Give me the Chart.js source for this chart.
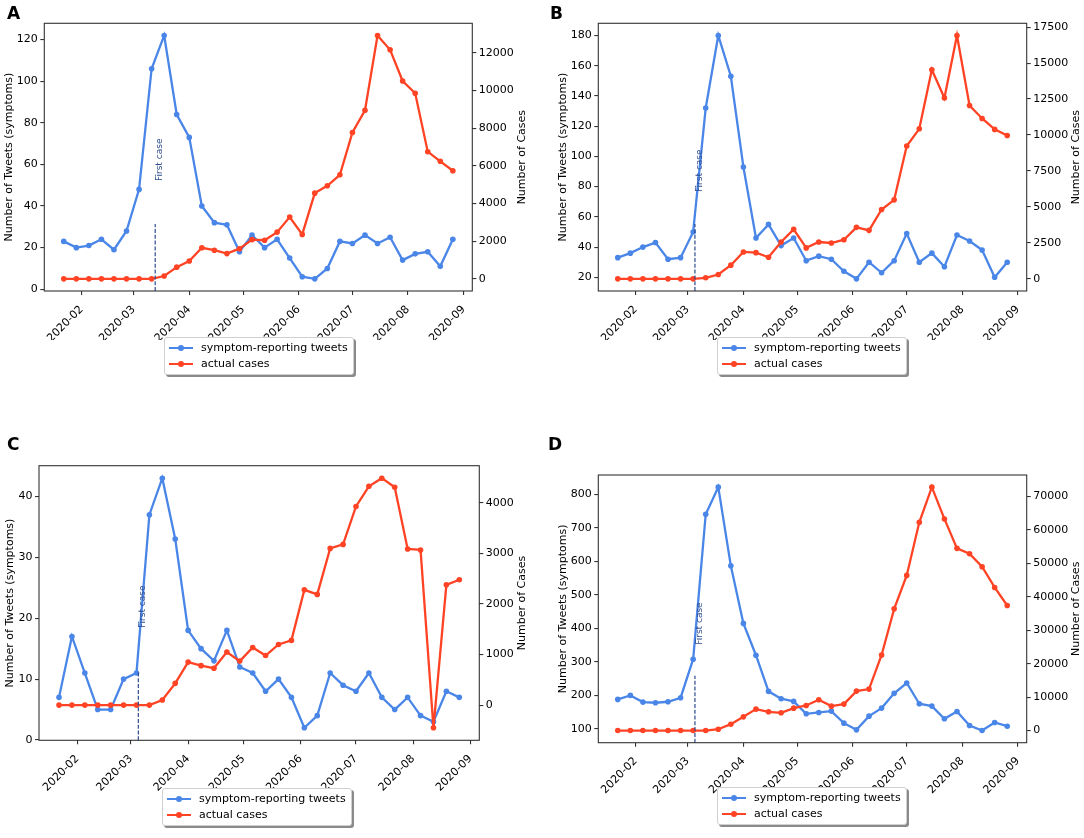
<!DOCTYPE html>
<html>
<head>
<meta charset="utf-8">
<script src="https://cdn.jsdelivr.net/npm/chart.js@4.4.0/dist/chart.umd.min.js"></script>
<style>
  body { margin: 0; background: #fff; width: 1084px; height: 838px; position: relative; overflow: hidden; font-family: 'DejaVu Sans', sans-serif; }
  .panel { position: absolute; }
  .tag { position: absolute; font-weight: bold; font-size: 17px; line-height: 17px; color: #000; }
  .legend { position: absolute; background: #fff; border: 1px solid #d0d0d0; border-radius: 3px; box-shadow: 2px 2px 0 #8a8a8a; padding: 2px 5px 2px 4px; font-size: 11px; line-height: 16px; color: #000; white-space: nowrap; }
  .legend .row { display: flex; align-items: center; }
  .legend .sym { position: relative; display: inline-block; width: 24px; height: 2px; margin-right: 8px; }
  .legend .sym i { position: absolute; left: 9px; top: -2px; width: 6px; height: 6px; border-radius: 50%; }
</style>
</head>
<body>
<script>
// weekly dates (Wednesdays)
const weeks = ['2020-01-22','2020-01-29','2020-02-05','2020-02-12','2020-02-19','2020-02-26',
  '2020-03-04','2020-03-11','2020-03-18','2020-03-25','2020-04-01','2020-04-08','2020-04-15',
  '2020-04-22','2020-04-29','2020-05-06','2020-05-13','2020-05-20','2020-05-27','2020-06-03',
  '2020-06-10','2020-06-17','2020-06-24','2020-07-01','2020-07-08','2020-07-15','2020-07-22',
  '2020-07-29','2020-08-05','2020-08-12','2020-08-19','2020-08-26'];
const monthTicks = ['2020-02','2020-03','2020-04','2020-05','2020-06','2020-07','2020-08','2020-09'];
const seriesNames = ['symptom-reporting tweets', 'actual cases'];

const tweetsA = [23,20,21,24,19,28,48,106,122,84,73,40,32,31,18,26,20,24,15,6,5,10,23,22,26,22,25,14,17,18,11,24];
const casesA = [0,0,0,0,0,0,0,0,150,620,950,1650,1520,1340,1600,2080,2050,2480,3280,2360,4550,4940,5520,7770,8950,12920,12160,10500,9850,6750,6240,5740];
const tweetsB = [33,36,40,43,32,33,50,132,180,153,93,46,55,41,46,31,34,32,24,19,30,23,31,49,30,36,27,48,44,38,20,30];
const casesB = [0,0,0,0,0,0,0,70,300,950,1870,1820,1500,2560,3440,2150,2560,2490,2720,3580,3370,4820,5490,9230,10430,14540,12580,16920,12050,11150,10390,9970];
const tweetsC = [7,17,11,5,5,10,11,37,43,33,18,15,13,18,12,11,8,10,7,2,4,11,9,8,11,7,5,7,4,3,8,7];
const casesC = [0,0,0,0,0,0,0,0,100,430,850,780,730,1050,870,1140,980,1200,1280,2280,2190,3100,3180,3930,4330,4490,4310,3090,3070,-450,2380,2480];
const tweetsD = [188,200,180,178,181,193,308,741,822,587,415,320,212,190,182,145,149,153,117,97,138,162,206,237,175,168,130,152,110,95,119,108];
const casesD = [0,0,0,0,0,0,0,0,400,1900,4100,6400,5600,5300,6700,7500,9200,7300,7900,11800,12400,22600,36400,46400,62300,72800,63300,54500,52900,49000,42800,37400];

const tweetTicksA = [0,20,40,60,80,100,120];
const caseTicksA = [0,2000,4000,6000,8000,10000,12000];
const tweetTicksB = [20,40,60,80,100,120,140,160,180];
const caseTicksB = [0,2500,5000,7500,10000,12500,15000,17500];
const tweetTicksC = [0,10,20,30,40];
const caseTicksC = [0,1000,2000,3000,4000];
const tweetTicksD = [100,200,300,400,500,600,700,800];
const caseTicksD = [0,10000,20000,30000,40000,50000,60000,70000];

const firstCase = ['2020-03-13','2020-03-05','2020-03-05','2020-03-05'];
const firstCaseLabelAt = [52, 76.5, 18.4, 351];   // left-axis value where the label starts

const blue = '#4a86e8';
const red = '#ff4324';
const navy = '#2d4b8e';
const FONT = '"DejaVu Sans"';
const TICK_SIZE = 11;

function dayOf(s) {
  const p = s.split('-').map(Number);
  return Date.UTC(p[0], p[1] - 1, p[2] || 1) / 864e5;
}
function padRange(arr) {
  const lo = Math.min(...arr), hi = Math.max(...arr), m = (hi - lo) * 0.05;
  return [lo - m, hi + m];
}
const xs = weeks.map(dayOf);
const monthX = monthTicks.map(dayOf);
const xRange = padRange(xs);

const panels = [
  { tag: 'A', tweets: tweetsA, cases: casesA, tT: tweetTicksA, cT: caseTicksA,
    box: { x: 0, y: 0, w: 540, h: 340 }, area: { l: 44.3, t: 23.3, r: 472.3, b: 291 },
    legend: { x: 164, y: 337 }, tagPos: { x: 7, y: 5 } },
  { tag: 'B', tweets: tweetsB, cases: casesB, tT: tweetTicksB, cT: caseTicksB,
    box: { x: 540, y: 0, w: 544, h: 340 }, area: { l: 598.3, t: 23.3, r: 1026.7, b: 291 },
    legend: { x: 717, y: 337 }, tagPos: { x: 550, y: 5 } },
  { tag: 'C', tweets: tweetsC, cases: casesC, tT: tweetTicksC, cT: caseTicksC,
    box: { x: 0, y: 420, w: 540, h: 418 }, area: { l: 39, t: 465.7, r: 479.3, b: 740.3 },
    legend: { x: 162, y: 788 }, tagPos: { x: 7, y: 436 } },
  { tag: 'D', tweets: tweetsD, cases: casesD, tT: tweetTicksD, cT: caseTicksD,
    box: { x: 540, y: 420, w: 544, h: 418 }, area: { l: 598.3, t: 475, r: 1026.7, b: 742.7 },
    legend: { x: 717, y: 787 }, tagPos: { x: 548, y: 436 } }
];

// draws frame, axis titles and the "First case" marker
function extras(p, idx) {
  return {
    id: 'extras' + p.tag,
    afterDatasetsDraw(chart) {
      const { ctx, chartArea: a, scales } = chart;
      const x = scales.x.getPixelForValue(dayOf(firstCase[idx]));
      ctx.save();
      ctx.strokeStyle = navy;
      ctx.lineWidth = 1.2;
      ctx.setLineDash([4, 1.8]);
      ctx.beginPath();
      ctx.moveTo(x, a.bottom);
      ctx.lineTo(x, a.bottom - 0.25 * (a.bottom - a.top));
      ctx.stroke();
      ctx.setLineDash([]);
      ctx.translate(x + 4.5, scales.yL.getPixelForValue(firstCaseLabelAt[idx]));
      ctx.rotate(-Math.PI / 2);
      ctx.font = '9px ' + FONT;
      ctx.fillStyle = navy;
      ctx.textAlign = 'left';
      ctx.textBaseline = 'middle';
      ctx.fillText('First case', 0, 0);
      ctx.restore();
    },
    afterDraw(chart) {
      const { ctx, chartArea: a } = chart;
      ctx.save();
      ctx.strokeStyle = '#333';
      ctx.lineWidth = 1.1;
      ctx.strokeRect(a.left, a.top, a.right - a.left, a.bottom - a.top);

      ctx.font = TICK_SIZE + 'px ' + FONT;
      const wL = Math.max(...p.tT.map(v => ctx.measureText(String(v)).width));
      const wR = Math.max(...p.cT.map(v => ctx.measureText(String(v)).width));
      ctx.fillStyle = '#000';
      ctx.textAlign = 'center';
      ctx.textBaseline = 'middle';
      const cy = (a.top + a.bottom) / 2;
      ctx.save();
      ctx.translate(a.left - 6 - wL - 8.5, cy);
      ctx.rotate(-Math.PI / 2);
      ctx.fillText('Number of Tweets (symptoms)', 0, 0);
      ctx.restore();
      ctx.save();
      ctx.translate(a.right + 6 + wR + 8.5, cy);
      ctx.rotate(-Math.PI / 2);
      ctx.fillText('Number of Cases', 0, 0);
      ctx.restore();
      ctx.restore();
    }
  };
}

const tickFont = { family: 'DejaVu Sans', size: TICK_SIZE };
const tickGrid = { drawOnChartArea: false, drawTicks: true, tickLength: 4, color: '#333', lineWidth: 1.1 };

panels.forEach((p, idx) => {
  const wrap = document.createElement('div');
  wrap.className = 'panel';
  wrap.style.left = p.box.x + 'px';
  wrap.style.top = p.box.y + 'px';
  const cv = document.createElement('canvas');
  cv.width = p.box.w;
  cv.height = p.box.h;
  wrap.appendChild(cv);
  document.body.appendChild(wrap);

  const tag = document.createElement('div');
  tag.className = 'tag';
  tag.style.left = p.tagPos.x + 'px';
  tag.style.top = p.tagPos.y + 'px';
  tag.textContent = p.tag;
  document.body.appendChild(tag);

  const leg = document.createElement('div');
  leg.className = 'legend';
  leg.style.left = p.legend.x + 'px';
  leg.style.top = p.legend.y + 'px';
  [blue, red].forEach((c, i) => {
    const row = document.createElement('div');
    row.className = 'row';
    row.innerHTML = '<span class="sym" style="background:' + c + '"><i style="background:' + c + '"></i></span>' + seriesNames[i];
    leg.appendChild(row);
  });
  document.body.appendChild(leg);

  const yL = padRange(p.tweets);
  const yR = padRange(p.cases);
  const leftW = p.area.l - p.box.x;
  const rightW = p.box.x + p.box.w - p.area.r;
  const bottomH = p.box.y + p.box.h - p.area.b;

  new Chart(cv, {
    type: 'line',
    data: {
      datasets: [
        {
          label: seriesNames[0],
          data: xs.map((x, i) => ({ x: x, y: p.tweets[i] })),
          yAxisID: 'yL',
          borderColor: blue,
          backgroundColor: blue,
          pointBackgroundColor: blue,
          borderWidth: 2.3,
          pointRadius: 2.8,
          pointBorderWidth: 0,
          order: 2
        },
        {
          label: seriesNames[1],
          data: xs.map((x, i) => ({ x: x, y: p.cases[i] })),
          yAxisID: 'yR',
          borderColor: red,
          backgroundColor: red,
          pointBackgroundColor: red,
          borderWidth: 2.3,
          pointRadius: 2.8,
          pointBorderWidth: 0,
          order: 1
        }
      ]
    },
    options: {
      responsive: false,
      animation: false,
      layout: { padding: { top: p.area.t - p.box.y, left: 0, right: 0, bottom: 0 } },
      plugins: { legend: { display: false }, tooltip: { enabled: false } },
      scales: {
        x: {
          type: 'linear',
          min: xRange[0],
          max: xRange[1],
          offset: false,
          afterBuildTicks: s => { s.ticks = monthX.map(v => ({ value: v })); },
          afterFit: s => { s.height = bottomH; },
          ticks: {
            autoSkip: false, maxRotation: 45, minRotation: 45, padding: 8,
            color: '#000', font: tickFont,
            callback: (v, i) => monthTicks[i]
          },
          grid: tickGrid,
          border: { display: false }
        },
        yL: {
          position: 'left',
          min: yL[0],
          max: yL[1],
          afterBuildTicks: s => { s.ticks = p.tT.map(v => ({ value: v })); },
          afterFit: s => { s.width = leftW; },
          ticks: { padding: 2.5, color: '#000', font: tickFont, callback: v => String(v) },
          grid: tickGrid,
          border: { display: false }
        },
        yR: {
          position: 'right',
          min: yR[0],
          max: yR[1],
          afterBuildTicks: s => { s.ticks = p.cT.map(v => ({ value: v })); },
          afterFit: s => { s.width = rightW; },
          ticks: { padding: 2.5, color: '#000', font: tickFont, callback: v => String(v) },
          grid: tickGrid,
          border: { display: false }
        }
      }
    },
    plugins: [extras(p, idx)]
  });
});
</script>
</body>
</html>
